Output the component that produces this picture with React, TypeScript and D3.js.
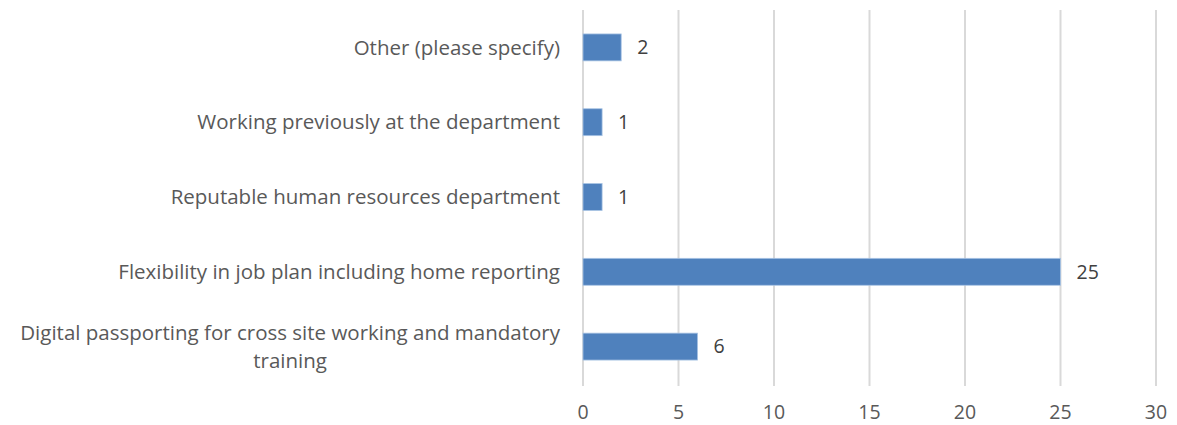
import * as d3 from "d3";
import { useEffect, useRef } from "react";

const categories = [
    "Other (please specify)",
    "Working previously at the department",
    "Reputable human resources department",
    "Flexibility in job plan including home reporting",
    "Digital passporting for cross site working and mandatory training",
];
const counts = [2, 1, 1, 25, 6];
const xTicks = [0, 5, 10, 15, 20, 25, 30];

const width = 1177;
const height = 425;
const margin = { top: 10, right: 21, bottom: 41, left: 583 };
const font = "'Open Sans', sans-serif";
const fs = 20.5;
const tickFs = 19.5;

function App() {
    const labelRef = useRef<SVGGElement>(null);

    const x = d3.scaleLinear().domain([0, 30]).range([margin.left, width - margin.right]);
    const y = d3
        .scaleBand()
        .domain(categories)
        .range([margin.top, height - margin.bottom])
        .paddingInner(0.64)
        .paddingOuter(0.32);

    // category labels: wrap long ones, centre the lines against the right edge
    useEffect(() => {
        const g = d3.select(labelRef.current);
        g.selectAll("*").remove();
        const maxW = 555;
        const right = margin.left - 23;
        categories.forEach(cat => {
            const cy = (y(cat) as number) + y.bandwidth() / 2;
            const words = cat.split(" ");
            const lines: string[] = [];
            let cur = "";
            const probe = g.append("text").attr("font-size", fs).attr("font-family", font);
            words.forEach(w => {
                const test = cur ? cur + " " + w : w;
                probe.text(test);
                if ((probe.node() as SVGTextElement).getComputedTextLength() > maxW && cur) {
                    lines.push(cur);
                    cur = w;
                } else {
                    cur = test;
                }
            });
            lines.push(cur);
            probe.text(lines[0]);
            const w0 = (probe.node() as SVGTextElement).getComputedTextLength();
            probe.remove();
            const lh = 28;
            lines.forEach((ln, i) => {
                const ty = cy + (i - (lines.length - 1) / 2) * lh;
                g.append("text")
                    .attr("x", lines.length > 1 ? right - w0 / 2 : right)
                    .attr("y", ty)
                    .attr("dy", "0.35em")
                    .attr("text-anchor", lines.length > 1 ? "middle" : "end")
                    .attr("font-size", fs)
                    .attr("font-family", font)
                    .attr("fill", "#595959")
                    .text(ln);
            });
        });
    }, []);

    return (
        <svg width={width} height={height} style={{ position: "absolute", left: 0, top: 0, background: "white" }}>
            <g>
                {xTicks.map(t => (
                    <line key={t} x1={x(t)} x2={x(t)} y1={margin.top} y2={height - margin.bottom + 2}
                        stroke="#d9d9d9" strokeWidth={2} />
                ))}
            </g>
            <g>
                {categories.map((c, i) => (
                    <rect key={c} x={x(0)} y={y(c)} width={x(counts[i]) - x(0)} height={y.bandwidth()}
                        fill="#4f81bd" stroke="#a9c4e4" strokeWidth={0.8} />
                ))}
            </g>
            <g fontFamily={font} fontSize={tickFs} fill="#404040">
                {categories.map((c, i) => (
                    <text key={c} x={x(counts[i]) + 16} y={(y(c) as number) + y.bandwidth() / 2} dy="0.35em">
                        {counts[i]}
                    </text>
                ))}
            </g>
            <g fontFamily={font} fontSize={tickFs} fill="#595959">
                {xTicks.map(t => (
                    <text key={t} x={x(t)} y={412} dy="0.35em" textAnchor="middle">{t}</text>
                ))}
            </g>
            <g ref={labelRef} />
        </svg>
    );
}

export default App;
